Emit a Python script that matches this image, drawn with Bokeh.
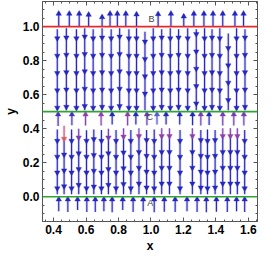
import numpy as np
from bokeh.plotting import figure
from bokeh.models import Range1d, FixedTicker, LinearAxis, Span, ColumnDataSource
from bokeh.core.properties import value
from bokeh.embed import file_html
from bokeh.resources import INLINE

# ---------------- data ----------------
# fixed levels (horizontal lines) and their labels
levels = [0.0, 0.5, 1.0]
level_colors = ["#2fa52f", "#2fa52f", "#e42a2a"]
point_names = ["A", "C", "B"]
point_x = [0.995, 0.992, 1.003]
point_y = [-0.038, 0.468, 1.043]

# streamlines above y = 1 (pointing up)
s1_x = [0.432, 0.497, 0.558, 0.616, 0.699, 0.748, 0.793, 0.845, 0.911, 1.044,
        1.123, 1.202, 1.264, 1.326, 1.382, 1.442, 1.517, 1.570]
s1_y0 = [1.003] * 18
s1_y1 = [1.086, 1.086, 1.086, 1.080, 1.066, 1.086, 1.086, 1.086, 1.082, 1.084,
         1.086, 1.070, 1.086, 1.086, 1.086, 1.086, 1.086, 1.086]

# streamlines between 0.5 and 1 (pointing down)
s2_x = [0.423, 0.479, 0.541, 0.592, 0.644, 0.699, 0.755, 0.807, 0.864, 0.911,
        0.963, 1.014, 1.066, 1.119, 1.170, 1.226, 1.279, 1.330, 1.376, 1.424,
        1.476, 1.527, 1.579]
s2_y0 = [0.985, 0.990, 0.985, 0.990, 0.985, 0.990, 0.985, 0.990, 0.985, 0.990,
         0.970, 0.990, 0.985, 0.990, 0.985, 0.990, 0.985, 0.990, 0.985, 0.990,
         0.960, 0.990, 0.985]
s2_y1 = [0.508] * 23
s2_head_low = [0.515, 0.520, 0.515, 0.525, 0.515, 0.520, 0.515, 0.525, 0.515, 0.515,
               0.598, 0.515, 0.520, 0.515, 0.520, 0.515, 0.540, 0.515, 0.520, 0.515,
               0.560, 0.515, 0.520]

# short streamlines just below 0.5 (pointing up)
s3_x = [0.428, 0.513, 0.597, 0.693, 0.761, 0.856, 0.907, 0.975, 1.037, 1.093,
        1.177, 1.256, 1.307, 1.358, 1.442, 1.510, 1.572]
s3_y0 = [0.415, 0.420, 0.418, 0.418, 0.425, 0.418, 0.425, 0.420, 0.425, 0.425,
         0.425, 0.420, 0.418, 0.422, 0.418, 0.418, 0.418]
s3_y1 = [0.494] * 17
s3_color = ["#4a2ec0", "#4a2ec0", "#9040a8", "#9040a8", "#2626c0", "#9040a8",
            "#2626c0", "#6a38b8", "#5a5ad8", "#2626c0", "#2626c0", "#2626c0",
            "#7a3cb6", "#2626c0", "#7a3cb6", "#7a3cb6", "#7a3cb6"]

# streamlines between 0 and ~0.4 (pointing down)
s4_x = [0.423, 0.465, 0.511, 0.555, 0.603, 0.648, 0.695, 0.738, 0.785, 0.831,
        0.876, 0.926, 0.973, 1.020, 1.066, 1.114, 1.179, 1.255, 1.307, 1.348,
        1.395, 1.442, 1.489, 1.532, 1.577]
s4_y0 = [0.395, 0.417, 0.395, 0.400, 0.390, 0.395, 0.392, 0.400, 0.392, 0.402,
         0.392, 0.402, 0.392, 0.395, 0.402, 0.402, 0.392, 0.402, 0.392, 0.395,
         0.392, 0.402, 0.402, 0.402, 0.392]
s4_y1 = [0.015] * 25
s4_head_top = [0.320, 0.332, 0.320, 0.340, 0.320, 0.330, 0.320, 0.340, 0.320, 0.345,
               0.320, 0.348, 0.325, 0.320, 0.348, 0.348, 0.320, 0.348, 0.325, 0.320,
               0.325, 0.348, 0.348, 0.348, 0.320]
s4_color = ["#2626c0", "#e25a5a", "#2626c0", "#7a3cb6", "#2626c0", "#2626c0",
            "#2626c0", "#7a3cb6", "#2626c0", "#9040a8", "#2626c0", "#9040a8",
            "#2626c0", "#2626c0", "#9040a8", "#9040a8", "#2626c0", "#9040a8",
            "#2626c0", "#2626c0", "#2626c0", "#9040a8", "#9040a8", "#9040a8",
            "#2626c0"]

# streamlines below 0 (pointing up)
s5_x = [0.432, 0.488, 0.548, 0.605, 0.657, 0.710, 0.761, 0.826, 0.890, 0.952,
        1.020, 1.082, 1.149, 1.222, 1.284, 1.341, 1.403, 1.470, 1.527, 1.577]
s5_y0 = [-0.085, -0.090, -0.078, -0.090, -0.090, -0.085, -0.092, -0.078, -0.090, -0.085,
         -0.092, -0.088, -0.090, -0.085, -0.090, -0.092, -0.088, -0.090, -0.085, -0.090]
s5_y1 = [-0.006] * 20

x_major = [0.4, 0.6, 0.8, 1.0, 1.2, 1.4, 1.6]
y_major = [0.0, 0.2, 0.4, 0.6, 0.8, 1.0]

# ---------------- styling ----------------
BLUE = "#2626c0"
HALO = "#8c8ce6"
HEAD = 5.5
STEP2 = 0.102
STEP4 = 0.093

p = figure(width=260, height=255, output_backend="svg", toolbar_location=None,
           x_range=Range1d(0.332, 1.656), y_range=Range1d(-0.146, 1.148),
           min_border_left=0, min_border_right=3, min_border_top=1, min_border_bottom=0)
p.grid.visible = False
p.background_fill_color = "white"
p.outline_line_color = "#555555"

for lv, col in zip(levels, level_colors):
    p.add_layout(Span(location=lv, dimension="width", line_color=col, line_width=1.6))

seg = dict(x0=[], y0=[], x1=[], y1=[], c=[])
heads = dict(x=[], y=[], a=[], c=[])

def add_seg(x, a, b, c):
    seg["x0"].append(x); seg["y0"].append(a); seg["x1"].append(x); seg["y1"].append(b); seg["c"].append(c)

def add_head(x, y, up, c):
    heads["x"].append(x); heads["y"].append(y); heads["a"].append(0.0 if up else np.pi); heads["c"].append(c)

for x, a, b in zip(s1_x, s1_y0, s1_y1):
    add_seg(x, a, b, BLUE)
    add_head(x, b - 0.01, True, BLUE)

for x, a, b, h in zip(s2_x, s2_y0, s2_y1, s2_head_low):
    add_seg(x, a, b, BLUE)
    hy = h
    while hy < a - 0.03:
        add_head(x, hy + 0.008, False, BLUE)
        hy += STEP2

for x, a, b, c in zip(s3_x, s3_y0, s3_y1, s3_color):
    add_seg(x, a, b, c)
    add_head(x, b - 0.01, True, c)

for x, a, b, h, c in zip(s4_x, s4_y0, s4_y1, s4_head_top, s4_color):
    add_seg(x, a, h, c)
    add_seg(x, h, b, BLUE)
    hy = h
    first = True
    while hy > b + 0.02:
        add_head(x, hy + 0.008, False, c if first else BLUE)
        first = False
        hy -= STEP4

for x, a, b in zip(s5_x, s5_y0, s5_y1):
    add_seg(x, a, b, BLUE)
    add_head(x, b - 0.01, True, BLUE)

src = ColumnDataSource(seg)
p.segment("x0", "y0", "x1", "y1", source=src, line_color=HALO, line_width=2.8, line_alpha=0.35)
p.segment("x0", "y0", "x1", "y1", source=src, line_color="c", line_width=1.1)
p.scatter("x", "y", source=ColumnDataSource(heads), marker="triangle", size=HEAD,
          angle="a", fill_color="c", line_color="c", line_width=0.4)

p.text(point_x, point_y, text=point_names, text_font=value("Liberation Sans"),
       text_font_size="9px", text_color="#444444", text_align="center",
       text_baseline="middle")

FONT = "Liberation Sans"

def style_axis(ax, labels=True):
    ax.axis_line_color = "#555555"
    ax.major_tick_line_color = "#555555"
    ax.minor_tick_line_color = "#555555"
    ax.major_tick_in = 4
    ax.major_tick_out = 0
    ax.minor_tick_in = 2
    ax.minor_tick_out = 0
    if labels:
        ax.major_label_text_font = FONT
        ax.major_label_text_font_style = "bold"
        ax.major_label_text_font_size = "12px"
        ax.major_label_text_color = "black"
        ax.major_label_standoff = 3
        ax.axis_label_text_font = FONT
        ax.axis_label_text_font_style = "bold"
        ax.axis_label_text_font_size = "12px"
        ax.axis_label_text_color = "black"
        ax.axis_label_standoff = 2
    else:
        ax.major_label_text_font_size = "0px"
        ax.major_label_text_color = None
        ax.major_label_standoff = 0

xt = FixedTicker(ticks=x_major, minor_ticks=list(np.round(np.arange(0.35, 1.66, 0.05), 2)))
yt = FixedTicker(ticks=y_major, minor_ticks=list(np.round(np.arange(-0.1, 1.15, 0.05), 2)))

p.xaxis.ticker = xt
p.yaxis.ticker = yt
p.xaxis.axis_label = "x"
p.yaxis.axis_label = "y"
style_axis(p.xaxis[0])
style_axis(p.yaxis[0])
p.xaxis.major_label_overrides = {v: f"{v:.1f}" for v in x_major}
p.yaxis.major_label_overrides = {v: f"{v:.1f}" for v in y_major}

top = LinearAxis(ticker=xt)
right = LinearAxis(ticker=yt)
style_axis(top, False)
style_axis(right, False)
p.add_layout(top, "above")
p.add_layout(right, "right")

open("out.html", "w").write(file_html(p, INLINE))
